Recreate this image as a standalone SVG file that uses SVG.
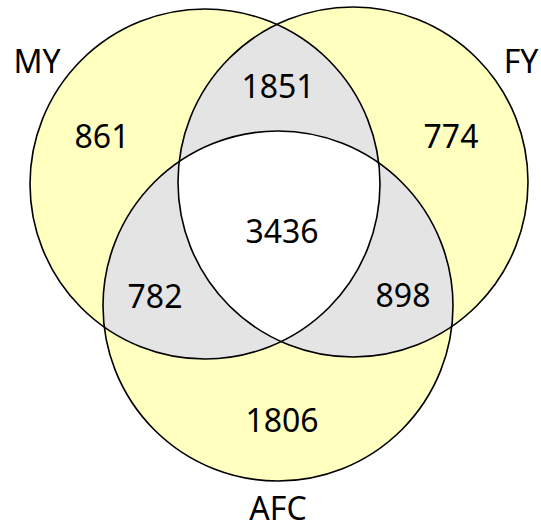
<svg xmlns="http://www.w3.org/2000/svg" width="541" height="531" viewBox="0 0 541 531">
  <style>
    .t { font-family: "Noto Sans", "Liberation Sans", sans-serif; font-size: 32px; fill: #000; text-anchor: middle; }
    .ring { fill: none; stroke: #000; stroke-width: 1.6; }
  </style>
  <defs>
    <circle id="cMY" cx="205" cy="184" r="175"/>
    <circle id="cFY" cx="353" cy="182" r="175"/>
    <circle id="cAFC" cx="278" cy="306" r="175"/>
    <clipPath id="clipMY"><use href="#cMY"/></clipPath>
    <clipPath id="clipFY"><use href="#cFY"/></clipPath>
    <clipPath id="clipAFC"><use href="#cAFC"/></clipPath>
  </defs>
  <rect width="541" height="531" fill="#fff"/>
  <g id="regions">
    <use href="#cMY" fill="#FFFFBF"/>
    <use href="#cFY" fill="#FFFFBF"/>
    <use href="#cAFC" fill="#FFFFBF"/>
    <g clip-path="url(#clipMY)"><use href="#cFY" fill="#E4E4E4"/><use href="#cAFC" fill="#E4E4E4"/></g>
    <g clip-path="url(#clipFY)"><use href="#cAFC" fill="#E4E4E4"/></g>
    <g clip-path="url(#clipMY)"><g clip-path="url(#clipFY)"><use href="#cAFC" fill="#FFFFFF"/></g></g>
  </g>
  <g id="MY">
    <use href="#cMY" class="ring"/>
    <text class="t" x="37" y="73">MY</text>
  </g>
  <g id="FY">
    <use href="#cFY" class="ring"/>
    <text class="t" x="521" y="73">FY</text>
  </g>
  <g id="AFC">
    <use href="#cAFC" class="ring"/>
    <text class="t" x="278" y="520">AFC</text>
  </g>
  <g id="counts">
    <text class="t" x="102" y="148">861</text>
    <text class="t" x="278" y="98">1851</text>
    <text class="t" x="451" y="148">774</text>
    <text class="t" x="282" y="243">3436</text>
    <text class="t" x="155" y="308">782</text>
    <text class="t" x="403" y="307">898</text>
    <text class="t" x="282" y="432">1806</text>
  </g>
</svg>
